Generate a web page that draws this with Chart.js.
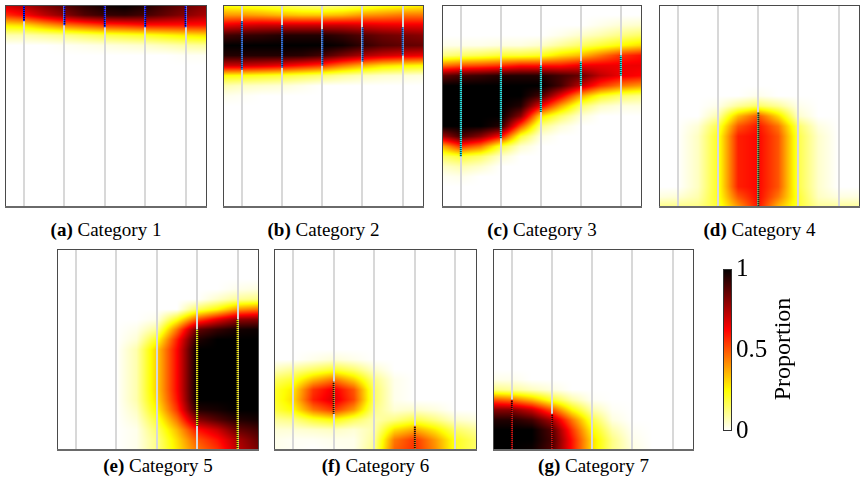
<!DOCTYPE html>
<html><head><meta charset="utf-8">
<script src="https://cdn.jsdelivr.net/npm/chart.js@4.4.1/dist/chart.umd.min.js"></script>
<style>
body{margin:0;background:#fff;}
#wrap{position:relative;width:864px;height:488px;overflow:hidden;font-family:"Liberation Serif","DejaVu Serif",serif;color:#000;}
#wrap canvas{position:absolute;}
.cap{position:absolute;width:240px;text-align:center;font-size:19px;line-height:20px;white-space:nowrap;}
#prop{position:absolute;width:160px;height:30px;line-height:30px;text-align:center;font-size:24px;transform:rotate(-90deg);}
</style></head>
<body><div id="wrap"></div>
<script>
// ---------- data ----------
const xSamples = [0.5, 1, 1.5, 2, 2.5, 3, 3.5, 4, 4.5, 5, 5.5];
const ySamples = [100, 95, 90, 85, 80, 75, 70, 65, 60, 55, 50, 45, 40, 35, 30, 25, 20, 15, 10, 5, 0];
const gridTicks = [1, 2, 3, 4, 5];
const panelLetters = ['a', 'b', 'c', 'd', 'e', 'f', 'g'];
const categories = ['Category 1', 'Category 2', 'Category 3', 'Category 4', 'Category 5', 'Category 6', 'Category 7'];
const colorbarTicks = [0, 0.5, 1];
const colorbarTitle = 'Proportion';

// proportion grids: rows top (y=100) to bottom (y=0), columns x=0.5..5.5
const heatA = [
  [0.7,0.75,0.82,0.88,0.94,0.98,1,0.96,0.9,0.85,0.8],
  [0.55,0.62,0.72,0.8,0.88,0.92,0.93,0.9,0.85,0.8,0.75],
  [0.28,0.3,0.38,0.45,0.5,0.55,0.57,0.6,0.6,0.6,0.6],
  [0.08,0.08,0.1,0.12,0.15,0.18,0.2,0.22,0.25,0.28,0.3],
  [0,0,0,0.01,0.02,0.03,0.04,0.05,0.07,0.09,0.1],
  [0,0,0,0,0,0,0,0,0,0.01,0.01],
  [0,0,0,0,0,0,0,0,0,0,0],
  [0,0,0,0,0,0,0,0,0,0,0],
  [0,0,0,0,0,0,0,0,0,0,0],
  [0,0,0,0,0,0,0,0,0,0,0],
  [0,0,0,0,0,0,0,0,0,0,0],
  [0,0,0,0,0,0,0,0,0,0,0],
  [0,0,0,0,0,0,0,0,0,0,0],
  [0,0,0,0,0,0,0,0,0,0,0],
  [0,0,0,0,0,0,0,0,0,0,0],
  [0,0,0,0,0,0,0,0,0,0,0],
  [0,0,0,0,0,0,0,0,0,0,0],
  [0,0,0,0,0,0,0,0,0,0,0],
  [0,0,0,0,0,0,0,0,0,0,0],
  [0,0,0,0,0,0,0,0,0,0,0],
  [0,0,0,0,0,0,0,0,0,0,0]
];
const heatB = [
  [0.22,0.2,0.18,0.15,0.12,0.1,0.12,0.15,0.2,0.22,0.25],
  [0.4,0.4,0.38,0.35,0.33,0.33,0.35,0.4,0.42,0.45,0.45],
  [0.65,0.68,0.7,0.7,0.7,0.7,0.7,0.68,0.66,0.65,0.65],
  [0.9,0.92,0.93,0.95,0.95,0.95,0.92,0.88,0.84,0.82,0.8],
  [1,1,1,1,1,1,0.98,0.93,0.88,0.86,0.85],
  [0.95,0.95,0.95,0.95,0.94,0.9,0.82,0.75,0.7,0.67,0.65],
  [0.7,0.7,0.68,0.65,0.6,0.55,0.45,0.37,0.3,0.27,0.25],
  [0.25,0.24,0.22,0.2,0.17,0.14,0.1,0.07,0.05,0.04,0.03],
  [0.08,0.06,0.05,0.04,0.02,0,0,0,0,0,0],
  [0.02,0.01,0,0,0,0,0,0,0,0,0],
  [0,0,0,0,0,0,0,0,0,0,0],
  [0,0,0,0,0,0,0,0,0,0,0],
  [0,0,0,0,0,0,0,0,0,0,0],
  [0,0,0,0,0,0,0,0,0,0,0],
  [0,0,0,0,0,0,0,0,0,0,0],
  [0,0,0,0,0,0,0,0,0,0,0],
  [0,0,0,0,0,0,0,0,0,0,0],
  [0,0,0,0,0,0,0,0,0,0,0],
  [0,0,0,0,0,0,0,0,0,0,0],
  [0,0,0,0,0,0,0,0,0,0,0],
  [0,0,0,0,0,0,0,0,0,0,0]
];
const heatC = [
  [0,0,0,0,0,0,0,0,0,0,0],
  [0,0,0,0,0,0,0,0,0,0,0],
  [0,0,0,0,0,0,0,0,0.02,0.04,0.05],
  [0,0,0,0,0,0,0.02,0.05,0.08,0.12,0.15],
  [0.02,0.02,0.02,0.03,0.03,0.05,0.1,0.15,0.2,0.25,0.3],
  [0.12,0.15,0.17,0.2,0.2,0.22,0.3,0.35,0.45,0.55,0.6],
  [0.45,0.5,0.52,0.55,0.6,0.6,0.6,0.65,0.65,0.65,0.65],
  [0.85,0.9,0.92,0.95,0.95,0.95,0.9,0.85,0.72,0.65,0.62],
  [1,1,1,1,1,1,0.9,0.72,0.55,0.45,0.4],
  [1,1,1,1,1,0.9,0.65,0.38,0.22,0.15,0.12],
  [1,1,1,1,0.95,0.65,0.38,0.15,0.06,0.03,0.03],
  [1,1,1,1,0.8,0.3,0.15,0.04,0,0,0],
  [1,1,1,0.95,0.5,0.12,0.04,0,0,0,0],
  [0.75,0.9,0.8,0.62,0.2,0.03,0,0,0,0,0],
  [0.35,0.55,0.45,0.2,0.05,0,0,0,0,0,0],
  [0.15,0.2,0.15,0.05,0,0,0,0,0,0,0],
  [0.05,0.08,0.05,0,0,0,0,0,0,0,0],
  [0.01,0.02,0,0,0,0,0,0,0,0,0],
  [0,0,0,0,0,0,0,0,0,0,0],
  [0,0,0,0,0,0,0,0,0,0,0],
  [0,0,0,0,0,0,0,0,0,0,0]
];
const heatD = [
  [0,0,0,0,0,0,0,0,0,0,0],
  [0,0,0,0,0,0,0,0,0,0,0],
  [0,0,0,0,0,0,0,0,0,0,0],
  [0,0,0,0,0,0,0,0,0,0,0],
  [0,0,0,0,0,0,0,0,0,0,0],
  [0,0,0,0,0,0,0,0,0,0,0],
  [0,0,0,0,0,0,0,0,0,0,0],
  [0,0,0,0,0,0,0,0,0,0,0],
  [0,0,0,0,0,0,0,0,0,0,0],
  [0,0,0,0,0,0.02,0,0,0,0,0],
  [0,0,0,0.02,0.1,0.15,0.1,0.02,0,0,0],
  [0,0,0,0.08,0.35,0.5,0.3,0.05,0,0,0],
  [0,0,0.04,0.18,0.5,0.6,0.45,0.15,0.03,0,0],
  [0,0,0.06,0.22,0.58,0.62,0.5,0.18,0.05,0,0],
  [0,0,0.06,0.22,0.58,0.62,0.5,0.18,0.05,0,0],
  [0,0,0.06,0.22,0.58,0.62,0.5,0.18,0.05,0,0],
  [0,0,0.06,0.22,0.58,0.62,0.5,0.18,0.05,0,0],
  [0,0,0.06,0.22,0.58,0.62,0.5,0.18,0.05,0,0],
  [0,0,0.06,0.22,0.58,0.62,0.5,0.18,0.05,0,0],
  [0.03,0.04,0.08,0.22,0.5,0.62,0.45,0.2,0.06,0.03,0.03],
  [0.12,0.12,0.12,0.2,0.4,0.6,0.35,0.2,0.1,0.1,0.1]
];
const heatE = [
  [0,0,0,0,0,0,0,0,0,0,0],
  [0,0,0,0,0,0,0,0,0,0,0],
  [0,0,0,0,0,0,0,0,0,0,0],
  [0,0,0,0,0,0,0,0,0,0,0],
  [0,0,0,0,0,0,0,0,0,0.02,0.03],
  [0,0,0,0,0,0,0,0,0.05,0.1,0.12],
  [0,0,0,0,0,0,0,0.15,0.25,0.4,0.45],
  [0,0,0,0,0,0.02,0.22,0.5,0.65,0.78,0.8],
  [0,0,0,0,0.02,0.1,0.45,0.85,0.92,0.97,0.98],
  [0,0,0,0,0.04,0.22,0.58,0.95,1,1,1],
  [0,0,0,0,0.08,0.32,0.62,1,1,1,1],
  [0,0,0,0,0.08,0.32,0.62,1,1,1,1],
  [0,0,0,0,0.08,0.32,0.62,1,1,1,1],
  [0,0,0,0,0.08,0.32,0.62,1,1,1,1],
  [0,0,0,0,0.08,0.32,0.62,1,1,1,1],
  [0,0,0,0,0.08,0.3,0.6,1,1,1,1],
  [0,0,0,0,0.06,0.26,0.55,0.95,0.97,1,1],
  [0,0,0,0,0.04,0.2,0.45,0.8,0.88,0.95,0.97],
  [0,0,0,0,0.02,0.15,0.35,0.6,0.7,0.85,0.9],
  [0,0,0,0,0.02,0.12,0.3,0.5,0.6,0.75,0.85],
  [0,0,0,0,0.02,0.12,0.28,0.45,0.55,0.72,0.82]
];
const heatF = [
  [0,0,0,0,0,0,0,0,0,0,0],
  [0,0,0,0,0,0,0,0,0,0,0],
  [0,0,0,0,0,0,0,0,0,0,0],
  [0,0,0,0,0,0,0,0,0,0,0],
  [0,0,0,0,0,0,0,0,0,0,0],
  [0,0,0,0,0,0,0,0,0,0,0],
  [0,0,0,0,0,0,0,0,0,0,0],
  [0,0,0,0,0,0,0,0,0,0,0],
  [0,0,0,0,0,0,0,0,0,0,0],
  [0,0,0,0,0,0,0,0,0,0,0],
  [0,0,0,0,0,0,0,0,0,0,0],
  [0,0,0.02,0.04,0.02,0,0,0,0,0,0],
  [0.06,0.1,0.15,0.2,0.14,0.05,0,0,0,0,0],
  [0.15,0.2,0.35,0.45,0.32,0.12,0.02,0,0,0,0],
  [0.2,0.28,0.55,0.65,0.5,0.15,0.02,0,0,0,0],
  [0.2,0.3,0.58,0.68,0.52,0.15,0.02,0,0,0,0],
  [0.18,0.25,0.45,0.55,0.4,0.12,0.04,0.05,0.03,0,0],
  [0.1,0.12,0.2,0.25,0.16,0.08,0.12,0.18,0.12,0.05,0.03],
  [0.04,0.04,0.05,0.06,0.04,0.08,0.3,0.38,0.28,0.15,0.1],
  [0.02,0.01,0.01,0.02,0.02,0.1,0.45,0.55,0.4,0.22,0.15],
  [0.02,0.01,0,0.01,0.02,0.12,0.48,0.56,0.42,0.22,0.15]
];
const heatG = [
  [0,0,0,0,0,0,0,0,0,0,0],
  [0,0,0,0,0,0,0,0,0,0,0],
  [0,0,0,0,0,0,0,0,0,0,0],
  [0,0,0,0,0,0,0,0,0,0,0],
  [0,0,0,0,0,0,0,0,0,0,0],
  [0,0,0,0,0,0,0,0,0,0,0],
  [0,0,0,0,0,0,0,0,0,0,0],
  [0,0,0,0,0,0,0,0,0,0,0],
  [0,0,0,0,0,0,0,0,0,0,0],
  [0,0,0,0,0,0,0,0,0,0,0],
  [0,0,0,0,0,0,0,0,0,0,0],
  [0,0,0,0,0,0,0,0,0,0,0],
  [0,0,0,0,0,0,0,0,0,0,0],
  [0.02,0.02,0,0,0,0,0,0,0,0,0],
  [0.12,0.1,0.06,0.03,0,0,0,0,0,0,0],
  [0.5,0.45,0.35,0.2,0.08,0.01,0,0,0,0,0],
  [0.8,0.8,0.7,0.5,0.25,0.08,0.01,0,0,0,0],
  [0.95,0.95,0.9,0.75,0.45,0.18,0.03,0,0,0,0],
  [1,1,1,0.88,0.55,0.25,0.08,0.01,0,0,0],
  [1,1,1,0.9,0.6,0.3,0.12,0.02,0,0,0],
  [1,1,0.98,0.88,0.6,0.3,0.12,0.03,0,0,0]
];

// interval bars: [x, low, high]
const barsA = [[1,92,100],[2,90,100],[3,89,100],[4,89,100],[5,89,100]];
const barsB = [[1,68,92],[2,69,90],[3,70,88],[4,72,89],[5,75,89]];
const barsC = [[1,25,68],[2,34,69],[3,47,70],[4,60,72],[5,65,75]];
const barsD = [[3,0,47]];
const barsE = [[4,12,60],[5,0,65]];
const barsF = [[2,18,34],[4,0,12]];
const barsG = [[1,0,25],[2,0,18]];

// ---------- layout & style ----------
const heats = [heatA, heatB, heatC, heatD, heatE, heatF, heatG];
const bars = [barsA, barsB, barsC, barsD, barsE, barsF, barsG];
const rects = [
  [5,5,202,202],[223,5,201,202],[442,5,200,202],[659,5,201,202],
  [57,249,202,201],[274,249,203,201],[493,249,201,201]
];
const capY = [230,230,230,230,466,466,466];
const barColors = [
  ['#1010ff','#0a0a50'],['#2a6ad8','#163a70'],['#10e0e0','#0a5050'],['#6a8a3a','#243018'],
  ['#e8e800','#403000'],['#d06000','#201000'],['#c00000','#300000']
];
const X_MIN = 0.53, X_MAX = 5.53;
const PAD = 3;

function clamp01(v){ return Math.max(0, Math.min(1, v)); }
function hotR(v){
  const t = 1 - clamp01(v);
  return [255*Math.min(1, t/0.375), 255*clamp01((t-0.375)/0.375), 255*clamp01((t-0.75)/0.25)];
}
function sampleGrid(grid, x, y){
  const nx = xSamples.length, ny = ySamples.length;
  let fx = (x - xSamples[0]) / (xSamples[1] - xSamples[0]);
  let fy = (ySamples[0] - y) / (ySamples[0] - ySamples[1]);
  fx = Math.max(0, Math.min(nx - 1, fx));
  fy = Math.max(0, Math.min(ny - 1, fy));
  const i0 = Math.min(nx - 2, Math.floor(fx)), j0 = Math.min(ny - 2, Math.floor(fy));
  const tx = fx - i0, ty = fy - j0;
  const a = grid[j0][i0], b = grid[j0][i0+1], c = grid[j0+1][i0], d = grid[j0+1][i0+1];
  return (a*(1-tx) + b*tx)*(1-ty) + (c*(1-tx) + d*tx)*ty;
}

const heatPlugin = {
  id: 'heat',
  beforeDraw(chart){
    const grid = chart.options.plugins.heat.grid;
    if (!grid) return;
    const ca = chart.chartArea, ctx = chart.ctx;
    const L = Math.round(ca.left), T = Math.round(ca.top);
    const W = Math.round(ca.right) - L, H = Math.round(ca.bottom) - T;
    const img = ctx.createImageData(W, H);
    const xs = chart.scales.x, ys = chart.scales.y;
    for (let j = 0; j < H; j++){
      const yv = ys.getValueForPixel(T + j + 0.5);
      for (let i = 0; i < W; i++){
        const xv = xs.getValueForPixel(L + i + 0.5);
        const c = hotR(sampleGrid(grid, xv, yv));
        const k = (j*W + i)*4;
        img.data[k] = c[0]; img.data[k+1] = c[1]; img.data[k+2] = c[2]; img.data[k+3] = 255;
      }
    }
    const off = document.createElement('canvas');
    off.width = W; off.height = H;
    off.getContext('2d').putImageData(img, 0, 0);
    ctx.drawImage(off, L, T);
  },
  afterDraw(chart){
    const ca = chart.chartArea, ctx = chart.ctx;
    ctx.save();
    ctx.strokeStyle = '#4a4a4a'; ctx.lineWidth = 1;
    ctx.strokeRect(Math.round(ca.left) + 0.5, Math.round(ca.top) + 0.5, Math.round(ca.right - ca.left) - 1, Math.round(ca.bottom - ca.top));
    ctx.strokeStyle = '#6a6a6a'; ctx.lineWidth = 2;
    ctx.beginPath(); ctx.moveTo(ca.left, Math.round(ca.bottom)); ctx.lineTo(ca.right, Math.round(ca.bottom)); ctx.stroke();
    ctx.restore();
  }
};

const wrap = document.getElementById('wrap');

rects.forEach((r, p) => {
  const cv = document.createElement('canvas');
  cv.width = r[2] + 2*PAD; cv.height = r[3] + 2*PAD;
  cv.style.left = (r[0] - PAD) + 'px'; cv.style.top = (r[1] - PAD) + 'px';
  wrap.appendChild(cv);
  const ctx = cv.getContext('2d');
  const pc = document.createElement('canvas'); pc.width = 2; pc.height = 2;
  const pg = pc.getContext('2d');
  pg.fillStyle = barColors[p][0]; pg.fillRect(0,0,2,2);
  pg.fillStyle = barColors[p][1]; pg.fillRect(0,1,2,1);
  const pattern = ctx.createPattern(pc, 'repeat');
  new Chart(ctx, {
    type: 'bar',
    data: { datasets: [{
      data: bars[p].map(b => ({ x: b[0], y: [b[1], b[2]] })),
      backgroundColor: pattern, borderWidth: 0, barThickness: 2, inflateAmount: 0, grouped: false
    }]},
    options: {
      responsive: false, animation: false, devicePixelRatio: 1,
      layout: { padding: PAD },
      plugins: { legend: { display: false }, tooltip: { enabled: false }, heat: { grid: heats[p] } },
      scales: {
        x: {
          type: 'linear', min: X_MIN, max: X_MAX, offset: false,
          afterBuildTicks: s => { s.ticks = gridTicks.map(v => ({ value: v })); },
          ticks: { display: false },
          grid: { offset: false, color: '#d8d8d8', lineWidth: 2, drawTicks: false },
          border: { display: false }
        },
        y: { type: 'linear', min: 0, max: 100, display: false }
      }
    },
    plugins: [heatPlugin]
  });
  const cap = document.createElement('div');
  cap.className = 'cap';
  cap.style.left = (r[0] + r[2]/2 - 120) + 'px';
  cap.style.top = (capY[p] - 10) + 'px';
  cap.innerHTML = '<b>(' + panelLetters[p] + ')</b> ' + categories[p];
  wrap.appendChild(cap);
});

// colorbar
const cbPlugin = {
  id: 'cbar',
  beforeDraw(chart){
    const ca = chart.chartArea, ctx = chart.ctx, ys = chart.scales.y;
    for (let py = Math.round(ca.top); py < Math.round(ca.bottom); py++){
      const c = hotR(ys.getValueForPixel(py + 0.5));
      ctx.fillStyle = 'rgb(' + c.map(Math.round).join(',') + ')';
      ctx.fillRect(ca.left, py, ca.right - ca.left, 1);
    }
  },
  afterDraw(chart){
    const ca = chart.chartArea, ctx = chart.ctx;
    ctx.save(); ctx.strokeStyle = '#333'; ctx.lineWidth = 1;
    ctx.strokeRect(Math.round(ca.left) + 0.5, Math.round(ca.top) + 0.5, Math.round(ca.right - ca.left) - 1, Math.round(ca.bottom - ca.top) - 1);
    ctx.restore();
  }
};
const cbc = document.createElement('canvas');
cbc.width = 110; cbc.height = 200;
cbc.style.left = '713px'; cbc.style.top = '250px';
wrap.appendChild(cbc);
new Chart(cbc.getContext('2d'), {
  type: 'bar',
  data: { datasets: [{ data: [] }] },
  options: {
    responsive: false, animation: false, devicePixelRatio: 1,
    layout: { padding: { left: 10, top: 13, bottom: 14, right: 0 } },
    plugins: { legend: { display: false }, tooltip: { enabled: false } },
    scales: {
      x: { display: false },
      y: {
        type: 'linear', position: 'right', min: 0, max: 1,
        afterBuildTicks: s => { s.ticks = colorbarTicks.map(v => ({ value: v })); },
        afterFit: s => { s.width = 91; },
        ticks: { color: '#000', padding: 4, font: { family: 'Liberation Serif', size: 25 }, callback: v => String(v) },
        grid: { display: false, drawTicks: false },
        border: { display: false }
      }
    }
  },
  plugins: [cbPlugin]
});
const prop = document.createElement('div');
prop.id = 'prop';
prop.textContent = colorbarTitle;
prop.style.left = (782 - 80) + 'px';
prop.style.top = (349 - 15) + 'px';
wrap.appendChild(prop);
</script>
</body></html>
